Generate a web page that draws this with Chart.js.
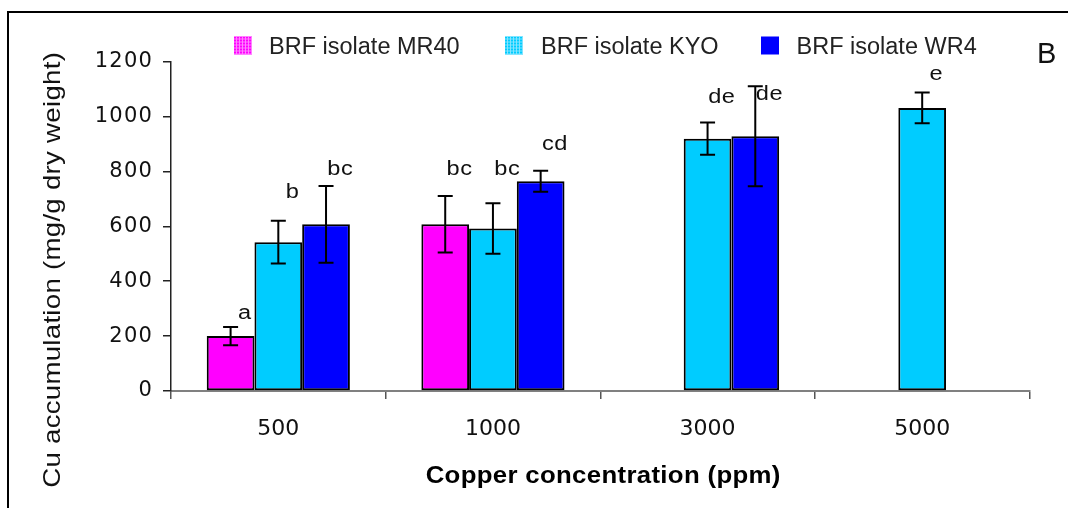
<!DOCTYPE html>
<html><head><meta charset="utf-8">
<script src="https://cdn.jsdelivr.net/npm/chart.js@4.4.1/dist/chart.umd.min.js"></script>
<style>html,body{margin:0;padding:0;background:#fff;}#wrap{width:1068px;height:508px;position:relative;}canvas{display:block;}</style>
</head><body><div id="wrap"><canvas id="c" width="1068" height="508"></canvas></div>
<script>
const categories = ['500', '1000', '3000', '5000'];
const seriesNames = ['BRF isolate MR40', 'BRF isolate KYO', 'BRF isolate WR4'];
const mr40 = [200, 607, null, null];
const kyo = [542, 592, 919, 1031];
const wr4 = [607, 764, 928, null];
const mr40Err = [33, 103, null, null];
const kyoErr = [78, 92, 59, 56];
const wr4Err = [140, 38, 182, null];
const mr40Letters = ['a', 'bc', null, null];
const kyoLetters = ['b', 'bc', 'de', 'e'];
const wr4Letters = ['bc', 'cd', 'de', null];
const mr40LetterAt = [262, 787, null, null];
const kyoLetterAt = [702, 787, 1048, 1133];
const wr4LetterAt = [787, 878, 1058, null];
const yTicks = [0, 200, 400, 600, 800, 1000, 1200];
const xTitle = 'Copper concentration (ppm)';
const yTitle = 'Cu accumulation (mg/g dry weight)';
const panelLabel = 'B';

const colors = ['#FF00FF', '#00CCFF', '#0000FF'];
const values = [mr40, kyo, wr4];
const errs = [mr40Err, kyoErr, wr4Err];
const letters = [mr40Letters, kyoLetters, wr4Letters];
const letterAt = [mr40LetterAt, kyoLetterAt, wr4LetterAt];
const FF = '"Liberation Sans", Arial, sans-serif';
const FT = '"DejaVu Sans", sans-serif';

function txt(ctx, s, x, y, o) {
  ctx.save();
  ctx.font = o.font;
  ctx.fillStyle = o.color || '#111';
  ctx.letterSpacing = (o.sp || 0) + 'px';
  ctx.textBaseline = 'alphabetic';
  ctx.textAlign = 'left';
  ctx.translate(x, y);
  if (o.rot) ctx.rotate(o.rot);
  ctx.scale(o.sx || 1, 1);
  const w = ctx.measureText(s).width - (o.sp || 0);
  const dx = o.align === 'center' ? -w / 2 : (o.align === 'right' ? -w : 0);
  ctx.fillText(s, dx, 0);
  ctx.restore();
}

function patchLabels(scale, spacing) {
  if (scale._lsPatched) return;
  scale._lsPatched = true;
  const orig = scale.drawLabels;
  scale.drawLabels = function (area) {
    const c = this.ctx;
    c.save();
    c.letterSpacing = spacing + 'px';
    orig.call(this, area);
    c.restore();
  };
}

const extras = {
  id: 'extras',
  afterDatasetsDraw(chart) {
    const ctx = chart.ctx;
    const ys = chart.scales.y;
    values.forEach((vals, i) => {
      const meta = chart.getDatasetMeta(i);
      vals.forEach((v, j) => {
        if (v === null || errs[i][j] === null) return;
        const el = meta.data[j];
        const x = el.x;
        const yt = ys.getPixelForValue(v + errs[i][j]);
        const yb = ys.getPixelForValue(v - errs[i][j]);
        ctx.save();
        ctx.strokeStyle = '#000';
        ctx.lineWidth = 2;
        ctx.beginPath();
        ctx.moveTo(x, yt); ctx.lineTo(x, yb);
        ctx.moveTo(x - 7.5, yt); ctx.lineTo(x + 7.5, yt);
        ctx.moveTo(x - 7.5, yb); ctx.lineTo(x + 7.5, yb);
        ctx.stroke();
        ctx.restore();
      });
    });
    letters.forEach((ls, i) => {
      const meta = chart.getDatasetMeta(i);
      ls.forEach((t, j) => {
        if (!t) return;
        const el = meta.data[j];
        txt(ctx, t, el.x + 14, ys.getPixelForValue(letterAt[i][j]),
          { font: '20px ' + FF, sp: 0.5, sx: 1.18, align: 'center', color: '#111' });
      });
    });
  },
  afterDraw(chart) {
    const ctx = chart.ctx;
    ctx.save();
    ctx.fillStyle = '#000';
    ctx.fillRect(7, 11, 2, 497);
    ctx.fillRect(7, 11, 1061, 2);
    ctx.restore();
    const sq = [234, 505, 761];
    const tx = [269, 541, 796.5];
    seriesNames.forEach((n, i) => {
      ctx.save();
      ctx.fillStyle = colors[i];
      ctx.fillRect(sq[i], 36.5, 18, 18);
      if (i < 2) {
        ctx.strokeStyle = i === 0 ? 'rgba(255,140,255,0.9)' : 'rgba(140,230,255,0.9)';
        ctx.lineWidth = 1;
        ctx.beginPath();
        for (let k = 2; k < 18; k += 3) {
          ctx.moveTo(sq[i] + k + 0.5, 36.5); ctx.lineTo(sq[i] + k + 0.5, 54.5);
          ctx.moveTo(sq[i], 36.5 + k + 0.5); ctx.lineTo(sq[i] + 18, 36.5 + k + 0.5);
        }
        ctx.stroke();
      }
      ctx.restore();
      txt(ctx, n, tx[i], 54.3, { font: '23.5px ' + FF, color: '#222' });
    });
    txt(ctx, panelLabel, 1037, 63, { font: '29px ' + FF, color: '#111' });
    txt(ctx, xTitle, 603, 483.3, { font: 'bold 23px ' + FF, sp: 0.3, sx: 1.12, align: 'center', color: '#000' });
    txt(ctx, yTitle, 60, 270, { font: '24px ' + FF, sp: 0.25, sx: 1.15, align: 'center', rot: -Math.PI / 2, color: '#111' });
  }
};

new Chart(document.getElementById('c').getContext('2d'), {
  type: 'bar',
  data: {
    labels: categories,
    datasets: values.map((v, i) => ({
      label: seriesNames[i],
      data: v,
      backgroundColor: colors[i],
      borderColor: '#000',
      borderWidth: 2,
      borderSkipped: false,
      categoryPercentage: 0.667,
      barPercentage: 1.0
    }))
  },
  options: {
    responsive: false,
    animation: false,
    devicePixelRatio: 1,
    layout: { padding: { top: 61.5, right: 38.5, left: 0, bottom: 0 } },
    plugins: { legend: { display: false }, tooltip: { enabled: false }, title: { display: false } },
    scales: {
      x: {
        grid: { offset: true, drawOnChartArea: false, drawTicks: true, tickLength: 8, color: '#555', lineWidth: 1.5 },
        border: { display: true, color: '#808080', width: 2 },
        ticks: { font: { family: FT, size: 22 }, color: '#111', padding: 17, maxRotation: 0, autoSkip: false },
        afterFit(s) { s.height = 117; patchLabels(s, 0); }
      },
      y: {
        min: 0, max: 1200,
        afterBuildTicks(s) { s.ticks = yTicks.map(v => ({ value: v })); },
        ticks: { font: { family: FT, size: 21 }, color: '#111', padding: 10, callback: v => String(v) },
        grid: { drawOnChartArea: false, drawTicks: true, tickLength: 8, color: '#222', lineWidth: 1.5 },
        border: { display: true, color: '#222', width: 1.5 },
        afterFit(s) { s.width = 171; patchLabels(s, 1.2); }
      }
    }
  },
  plugins: [extras]
});
</script></body></html>
